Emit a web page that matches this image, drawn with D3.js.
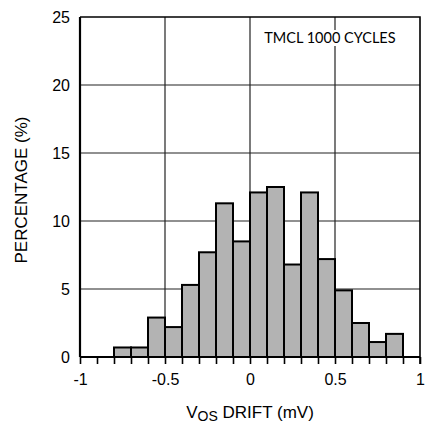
<!DOCTYPE html>
<html>
<head>
  <meta charset="utf-8">
  <title>VOS Drift Histogram</title>
  <style>
    body {
      margin: 0;
      background: #fff;
    }
  </style>
</head>
<body>
<svg width="428" height="427"></svg>
<script src="https://d3js.org/d3.v7.min.js"></script>
<script>

  // histogram bins (mV), lower edge of each 0.1 mV bin
  var binStarts = [-0.8, -0.7, -0.6, -0.5, -0.4, -0.3, -0.2, -0.1, 0, 0.1, 0.2, 0.3, 0.4, 0.5, 0.6, 0.7, 0.8]
  var percents = [0.7, 0.7, 2.9, 2.2, 5.3, 7.7, 11.3, 8.5, 12.1, 12.5, 6.8, 12.1, 7.2, 4.9, 2.5, 1.1, 1.7]
  var binWidth = 0.1

  var xTicks = [-1, -0.5, 0, 0.5, 1]
  var xTickLabels = ['-1', '-0.5', '0', '0.5', '1']
  var xMinorTicks = d3.range(-10, 11).map(function (i) { return i / 10 })
  var yTicks = [0, 5, 10, 15, 20, 25]
  var note = 'TMCL 1000 CYCLES'

  var sans = '"Liberation Sans", Arial, sans-serif'

  var svg = d3.select("svg"),
    margin = {top: 17, right: 8, bottom: 70, left: 80},
    width = +svg.attr("width") - margin.left - margin.right,
    height = +svg.attr("height") - margin.top - margin.bottom,
    g = svg.append("g").attr("transform", "translate(" + margin.left + "," + margin.top + ")");

  var x = d3.scaleLinear()
    .domain([-1, 1])
    .range([0, width]);

  var y = d3.scaleLinear()
    .domain([0, 25])
    .range([height, 0]);

  // grid
  g.append("g")
    .selectAll("line")
    .data(yTicks.slice(1, -1))
    .enter().append("line")
    .attr("x1", 0)
    .attr("x2", width)
    .attr("y1", function (d) { return y(d) })
    .attr("y2", function (d) { return y(d) })
    .attr("stroke", "#222")
    .attr("stroke-width", 1.2);

  g.append("g")
    .selectAll("line")
    .data(xTicks.slice(1, -1))
    .enter().append("line")
    .attr("x1", function (d) { return x(d) })
    .attr("x2", function (d) { return x(d) })
    .attr("y1", 0)
    .attr("y2", height)
    .attr("stroke", "#222")
    .attr("stroke-width", 1.2);

  // top and right border
  g.append("path")
    .attr("d", "M0," + y(25) + "H" + x(1) + "V" + (height + 7))
    .attr("fill", "none")
    .attr("stroke", "#000")
    .attr("stroke-width", 1.6);

  // note with white box behind it
  var noteText = g.append("text")
    .attr("class", "note")
    .attr("x", x(0.47))
    .attr("y", y(25) + 26)
    .attr("text-anchor", "middle")
    .style("font-family", 'Lato, "Open Sans", sans-serif')
    .style("font-size", "14.5px")
    .text(note);
  var bb = noteText.node().getBBox()
  g.insert("rect", ".note")
    .attr("x", bb.x - 2)
    .attr("y", bb.y + 1)
    .attr("width", bb.width + 4)
    .attr("height", bb.height - 1)
    .attr("fill", "#fff");

  // bars
  g.append("g")
    .selectAll("rect")
    .data(binStarts)
    .enter().append("rect")
    .attr("x", function (d) { return x(d) })
    .attr("width", function (d) { return x(d + binWidth) - x(d) })
    .attr("y", function (d, i) { return y(percents[i]) })
    .attr("height", function (d, i) { return y(0) - y(percents[i]) })
    .attr("fill", "#b3b3b3")
    .attr("stroke", "#000")
    .attr("stroke-width", 2);

  // x axis
  var xAxis = g.append("g")
    .attr("transform", "translate(0," + height + ")")
    .call(d3.axisBottom(x)
      .tickValues(xMinorTicks)
      .tickSize(7)
      .tickFormat(function (d) {
        var i = xTicks.indexOf(d)
        return i >= 0 ? xTickLabels[i] : ""
      }));
  xAxis.select(".domain").attr("d", "M0,0H" + width).attr("stroke-width", 2.2);
  xAxis.selectAll(".tick line").attr("stroke-width", 1.6);
  xAxis.selectAll(".tick text")
    .attr("dy", 0)
    .attr("y", 28)
    .style("font-family", sans)
    .style("font-size", "16px");

  // y axis
  var yAxis = g.append("g")
    .call(d3.axisLeft(y)
      .tickValues(yTicks)
      .tickSize(0)
      .tickPadding(10));
  yAxis.select(".domain").attr("d", "M0," + height + "V0").attr("stroke-width", 2.2);
  yAxis.selectAll(".tick text")
    .style("font-family", sans)
    .style("font-size", "16px");

  // axis titles
  var xTitle = svg.append("text")
    .attr("x", margin.left + width / 2)
    .attr("y", 418)
    .attr("text-anchor", "middle")
    .style("font-family", sans)
    .style("font-size", "17px");
  xTitle.append("tspan").text("V");
  xTitle.append("tspan").attr("dy", 3).style("font-size", "14px").text("OS");
  xTitle.append("tspan").attr("dy", -3).text(" DRIFT (mV)");

  svg.append("text")
    .attr("transform", "translate(27,190) rotate(-90)")
    .attr("text-anchor", "middle")
    .style("font-family", sans)
    .style("font-size", "17px")
    .text("PERCENTAGE (%)");

</script>
</body>
</html>
